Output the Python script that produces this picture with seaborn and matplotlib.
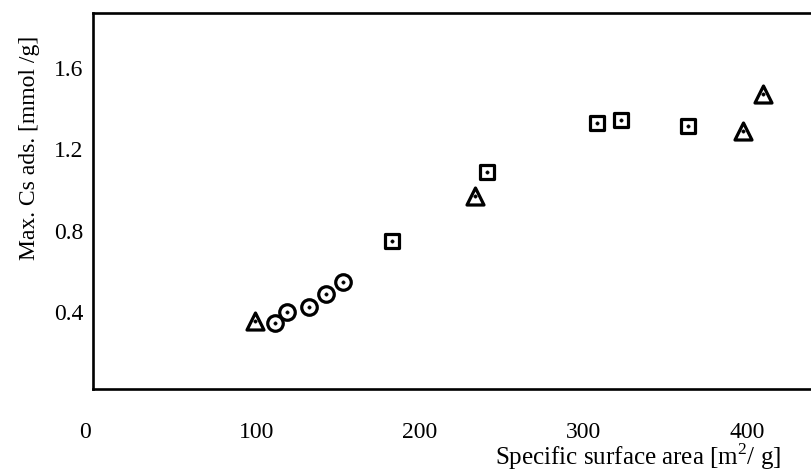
import matplotlib
matplotlib.use("Agg")
import matplotlib.pyplot as plt
import matplotlib.transforms as mtransforms
import seaborn as sns
import pandas as pd

# Data
tri_x = [99, 233.6, 397.7, 409.6]
tri_y = [0.355, 0.971, 1.29, 1.471]
circ_x = [111.3, 118.8, 132.3, 142.5, 153.1]
circ_y = [0.343, 0.397, 0.425, 0.486, 0.545]
sq_x = [182.7, 240.8, 308.0, 322.9, 364.1]
sq_y = [0.75, 1.087, 1.328, 1.344, 1.316]

x_ticks = [0, 100, 200, 300, 400]
y_ticks = [0.4, 0.8, 1.2, 1.6]
y_tick_labels = ["0.4", "0.8", "1.2", "1.6"]

sns.set_theme(style="white")
plt.rcParams["font.family"] = ["Liberation Serif", "DejaVu Serif"]
plt.rcParams["mathtext.fontset"] = "custom"
plt.rcParams["mathtext.rm"] = "Liberation Serif"

df = pd.concat([
    pd.DataFrame({"x": tri_x, "y": tri_y, "g": "tri"}),
    pd.DataFrame({"x": circ_x, "y": circ_y, "g": "circ"}),
    pd.DataFrame({"x": sq_x, "y": sq_y, "g": "sq"}),
])

fig = plt.figure(figsize=(8.11, 4.72), dpi=100)
ax = fig.add_axes([93 / 811, 1 - 389 / 472, 1 - 93 / 811, (389 - 13) / 472])

markers = {"tri": ("^", 150), "circ": ("o", 125), "sq": ("s", 115)}
for g, (m, s) in markers.items():
    sub = df[df["g"] == g]
    sns.scatterplot(data=sub, x="x", y="y", marker=m, s=s, facecolor="white",
                    edgecolor="black", linewidth=2.3, ax=ax, zorder=3, legend=False)
sns.scatterplot(data=df, x="x", y="y", marker="o", s=6, color="black",
                edgecolor="black", linewidth=0.3, ax=ax, zorder=4, legend=False)

ax.set_xlim(0, 439)
ax.set_ylim(0.02, 1.872)
ax.set_xticks(x_ticks)
ax.set_xticklabels([str(v) for v in x_ticks])
ax.set_yticks(y_ticks)
ax.set_yticklabels(y_tick_labels)

for sp in ["left", "bottom", "top"]:
    ax.spines[sp].set_linewidth(1.9)
    ax.spines[sp].set_color("black")
ax.spines["right"].set_visible(False)

ax.tick_params(axis="both", direction="in", length=9, width=1.7, colors="black",
               labelsize=17)
ax.tick_params(axis="x", pad=24)
ax.tick_params(axis="y", pad=7)

# the "0" label sits a little left of the spine in the reference
first = ax.get_xticklabels()[0]
first.set_transform(first.get_transform() +
                    mtransforms.ScaledTranslation(-8 / 100, 0, fig.dpi_scale_trans))

ax.set_xlabel("Specific surface area [m$^{2}$/ g]", fontsize=18, color="black")
ax.xaxis.set_label_coords((781 - 93) / 718, (389 - 457) / 376)
ax.xaxis.label.set_horizontalalignment("right")
ax.xaxis.label.set_verticalalignment("center")

ax.set_ylabel("Max. Cs ads. [mmol /g]", fontsize=17, color="black")
ax.yaxis.set_label_coords((30 - 93) / 718, (389 - 148) / 376)
ax.yaxis.label.set_verticalalignment("center")
ax.yaxis.label.set_horizontalalignment("center")

fig.savefig("out.png", dpi=100)
